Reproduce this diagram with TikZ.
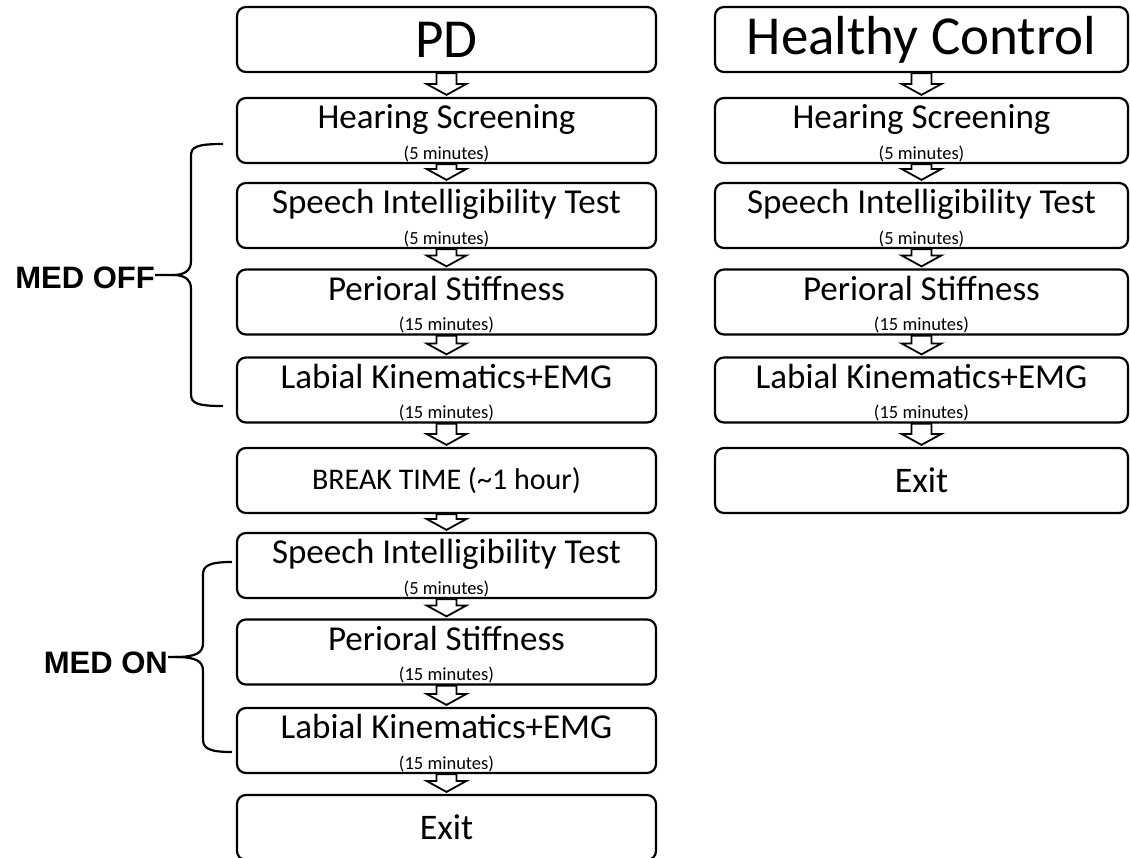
\documentclass[tikz,border=0pt]{standalone}
\usepackage{fontspec}
\setmainfont{Carlito}
\newfontfamily\medfont{Liberation Sans}
\usepackage{tikz}
\usetikzlibrary{calc}

\begin{document}
\begin{tikzpicture}
[x=1pt,y=-1pt,
stepbox/.style={draw,rounded corners=9pt,line width=2.2pt,
minimum width=419pt,minimum height=65pt,inner sep=0pt},
ctlbox/.style={stepbox,minimum width=413pt},
title/.style={font=\fontsize{55}{62}\selectfont},
mainlab/.style={anchor=base,inner sep=0pt,font=\fontsize{35}{40}\selectfont},
mins/.style={anchor=base,inner sep=0pt,font=\fontsize{18.5}{20}\selectfont},
medlab/.style={anchor=east,inner sep=0pt,font=\medfont\bfseries\fontsize{31}{36}\selectfont},
bracepath/.style={line width=2.2pt,line join=round},
fatarrow/.style={draw=black,fill=white,line width=1.8pt,line join=miter,
to path={let \p1=(\tikztostart.south), \p2=(\tikztotarget.north) in
({\x1-10pt},\y1) -- ({\x1+10pt},\y1) -- ({\x1+10pt},{\y2+13pt})
-- ({\x1+20pt},{\y2+13pt}) -- (\x1,{\y2+2pt}) -- ({\x1-20pt},{\y2+13pt})
-- ({\x1-10pt},{\y2+13pt}) -- cycle}}]
\useasboundingbox (0,0) rectangle (1130,857);

\node (pd) at (446.5,39.5) [stepbox,title] {PD};
\node (hear) at (446.5,130.5) [stepbox] {};
\node (hearT) at ([yshift=-32pt]hear.north) [mainlab] {Hearing Screening};
\node (hearM) at ([yshift=5pt]hear.south) [mins] {(5 minutes)};
\node (sp) at (446.5,215.5) [stepbox] {};
\node (spT) at ([yshift=-32pt]sp.north) [mainlab] {Speech Intelligibility Test};
\node (spM) at ([yshift=5pt]sp.south) [mins] {(5 minutes)};
\node (peri) at (446.5,302) [stepbox] {};
\node (periT) at ([yshift=-32pt]peri.north) [mainlab] {Perioral Stiffness};
\node (periM) at ([yshift=5pt]peri.south) [mins] {(15 minutes)};
\node (lab) at (446.5,390) [stepbox] {};
\node (labT) at ([yshift=-32pt]lab.north) [mainlab] {Labial Kinematics+EMG};
\node (labM) at ([yshift=5pt]lab.south) [mins] {(15 minutes)};
\node (brk) at (446.5,480.5) [stepbox,font=\fontsize{30}{36}\selectfont] {BREAK TIME (\textasciitilde1 hour)};
\node (sp2) at (446.5,565.5) [stepbox] {};
\node (sp2T) at ([yshift=-32pt]sp2.north) [mainlab] {Speech Intelligibility Test};
\node (sp2M) at ([yshift=5pt]sp2.south) [mins] {(5 minutes)};
\node (peri2) at (446.5,652) [stepbox] {};
\node (peri2T) at ([yshift=-32pt]peri2.north) [mainlab] {Perioral Stiffness};
\node (peri2M) at ([yshift=5pt]peri2.south) [mins] {(15 minutes)};
\node (lab2) at (446.5,740.5) [stepbox] {};
\node (lab2T) at ([yshift=-32pt]lab2.north) [mainlab] {Labial Kinematics+EMG};
\node (lab2M) at ([yshift=5pt]lab2.south) [mins] {(15 minutes)};
\node (exit) at (446.5,827.5) [stepbox,font=\fontsize{36}{40}\selectfont] {Exit};

\node (hc) at (921.5,39.5) [ctlbox,title] {Healthy Control};
\node (hearR) at (921.5,130.5) [ctlbox] {};
\node (hearRT) at ([yshift=-32pt]hearR.north) [mainlab] {Hearing Screening};
\node (hearRM) at ([yshift=5pt]hearR.south) [mins] {(5 minutes)};
\node (spR) at (921.5,215.5) [ctlbox] {};
\node (spRT) at ([yshift=-32pt]spR.north) [mainlab] {Speech Intelligibility Test};
\node (spRM) at ([yshift=5pt]spR.south) [mins] {(5 minutes)};
\node (periR) at (921.5,302) [ctlbox] {};
\node (periRT) at ([yshift=-32pt]periR.north) [mainlab] {Perioral Stiffness};
\node (periRM) at ([yshift=5pt]periR.south) [mins] {(15 minutes)};
\node (labR) at (921.5,390) [ctlbox] {};
\node (labRT) at ([yshift=-32pt]labR.north) [mainlab] {Labial Kinematics+EMG};
\node (labRM) at ([yshift=5pt]labR.south) [mins] {(15 minutes)};
\node (exitR) at (921.5,480.5) [ctlbox,font=\fontsize{36}{40}\selectfont] {Exit};

\draw[fatarrow] (pd) to (hear);
\draw[fatarrow] (hear) to (sp);
\draw[fatarrow] (sp) to (peri);
\draw[fatarrow] (peri) to (lab);
\draw[fatarrow] (lab) to (brk);
\draw[fatarrow] (brk) to (sp2);
\draw[fatarrow] (sp2) to (peri2);
\draw[fatarrow] (peri2) to (lab2);
\draw[fatarrow] (lab2) to (exit);

\draw[fatarrow] (hc) to (hearR);
\draw[fatarrow] (hearR) to (spR);
\draw[fatarrow] (spR) to (periR);
\draw[fatarrow] (periR) to (labR);
\draw[fatarrow] (labR) to (exitR);

\coordinate (offtip) at (173,275);
\node (off) at (155,278) [medlab] {MED OFF};
\draw[bracepath] (off.east |- offtip) -- (offtip) .. controls (184,275) and (191,271) .. (191,261)
-- (191,156) .. controls (191,147) and (196,144) .. (223,144);
\draw[bracepath] (offtip) .. controls (184,275) and (191,279) .. (191,289)
-- (191,394) .. controls (191,403) and (196,406) .. (223,406);

\coordinate (ontip) at (175,657);
\node (on) at (168,663) [medlab] {MED ON};
\draw[bracepath] (on.east |- ontip) -- (ontip) .. controls (196,657) and (203,653) .. (203,643)
-- (203,575) .. controls (203,566) and (208,562) .. (232,562);
\draw[bracepath] (ontip) .. controls (196,657) and (203,661) .. (203,671)
-- (203,739) .. controls (203,748) and (208,752) .. (232,752);

\end{tikzpicture}
\end{document}
